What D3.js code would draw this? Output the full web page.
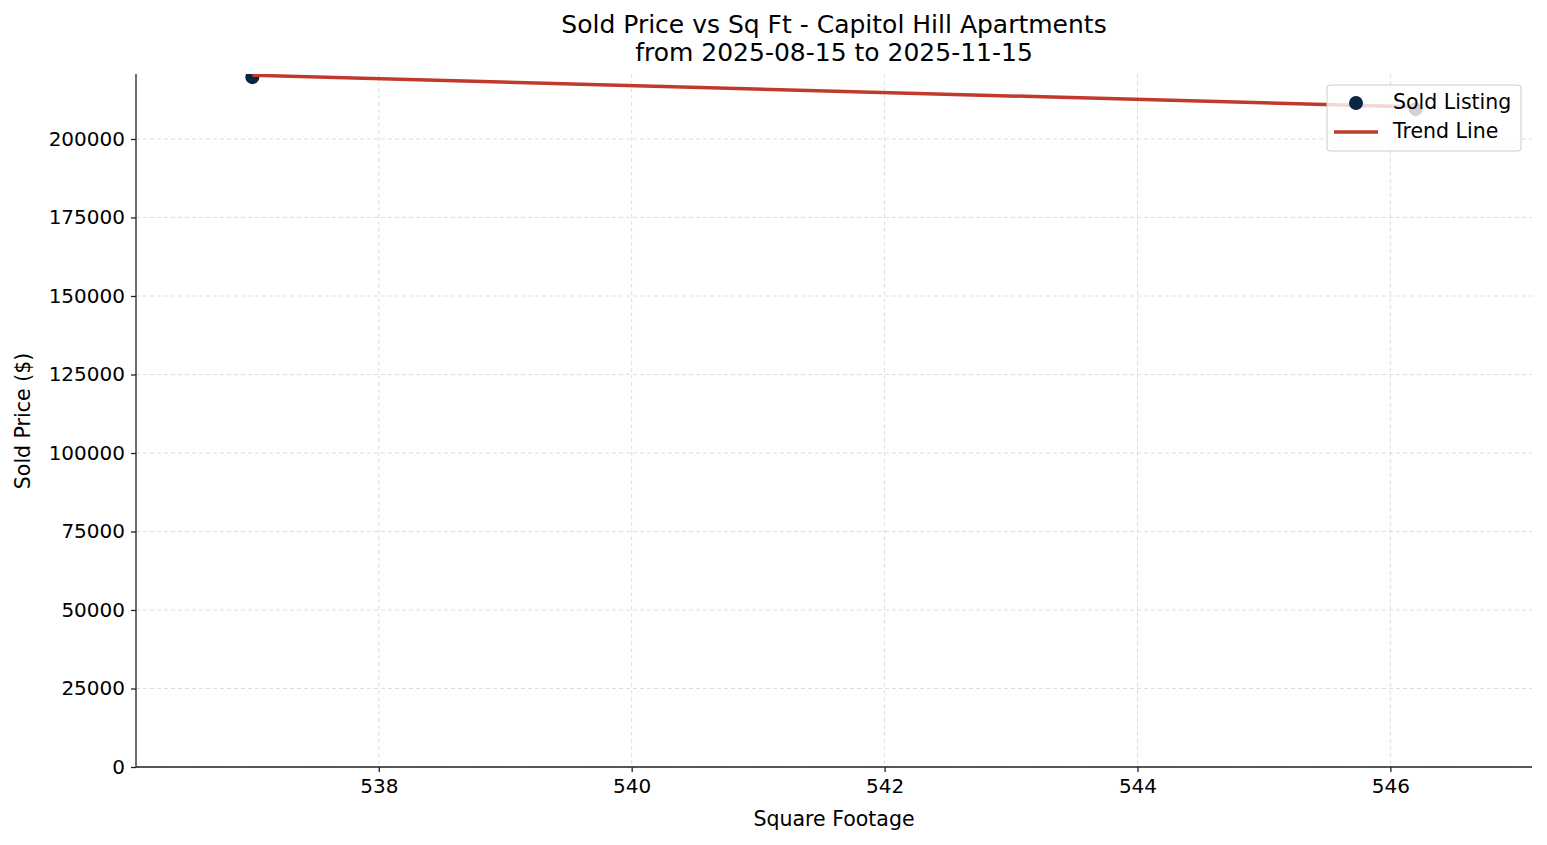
<!DOCTYPE html>
<html><head><meta charset="utf-8">
<script src="https://cdn.jsdelivr.net/npm/d3@7"></script>
<style>body{margin:0;background:#fff;font-family:"DejaVu Sans",sans-serif}</style>
</head><body><svg id="c" width="1547" height="845"></svg>
<script>
const sqft = [537.0, 546.2];
const price = [219700, 209500];
const trendX = [537.0, 546.2];
const trendY = [220300, 210200];
const xTicks = [538, 540, 542, 544, 546];
const yTicks = [0, 25000, 50000, 75000, 100000, 125000, 150000, 175000, 200000];

const svg = d3.select("#c");
const L = 136, R = 1532, T = 74, B = 767;
const x = d3.scaleLinear().domain([536.08, 547.12]).range([L, R]);
const y = d3.scaleLinear().domain([0, 220700]).range([B, T]);
const font = "DejaVu Sans, sans-serif";

svg.append("defs").append("clipPath").attr("id","clip").append("rect")
  .attr("x",L).attr("y",T).attr("width",R-L).attr("height",B-T);

const g = svg.append("g");
g.selectAll(".gx").data(xTicks).join("line").attr("x1",d=>x(d)).attr("x2",d=>x(d))
  .attr("y1",T).attr("y2",B).attr("stroke","#ccc").attr("stroke-width",0.8).attr("stroke-dasharray","4,3").attr("opacity",0.8);
g.selectAll(".gy").data(yTicks).join("line").attr("y1",d=>y(d)).attr("y2",d=>y(d))
  .attr("x1",L).attr("x2",R).attr("stroke","#ccc").attr("stroke-width",0.8).attr("stroke-dasharray","4,3").attr("opacity",0.8);

const pl = svg.append("g").attr("clip-path","url(#clip)");
pl.selectAll("circle").data(sqft).join("circle").attr("cx",d=>x(d)).attr("cy",(d,i)=>y(price[i]))
  .attr("r",7).attr("fill","#0b2545");
pl.append("path").datum(trendX.map((d,i)=>[d,trendY[i]]))
  .attr("d",d3.line().x(d=>x(d[0])).y(d=>y(d[1]))).attr("fill","none")
  .attr("stroke","#c0392b").attr("stroke-width",3.5);

const xa = svg.append("g").attr("transform",`translate(0,${B})`).call(d3.axisBottom(x).tickValues(xTicks).tickSize(5).tickPadding(7));
const ya = svg.append("g").attr("transform",`translate(${L},0)`).call(d3.axisLeft(y).tickValues(yTicks).tickSize(5).tickPadding(6).tickFormat(d3.format("d")));
[xa,ya].forEach(a=>{a.attr("font-size",20).selectAll("text").attr("font-family",font).attr("font-size",20).attr("fill","#000");
  a.selectAll("line,path").attr("stroke","#222").attr("stroke-width",1.3);});
xa.select(".domain").attr("d",`M${L},0H${R}`);
ya.select(".domain").attr("d",`M0,${B}V${T}`);

svg.append("text").attr("x",834).attr("y",826).attr("text-anchor","middle").attr("font-family",font).attr("font-size",20.5).text("Square Footage");
svg.append("text").attr("transform","translate(30,421) rotate(-90)").attr("text-anchor","middle").attr("font-family",font).attr("font-size",20.5).text("Sold Price ($)");
svg.append("text").attr("x",834).attr("y",33).attr("text-anchor","middle").attr("font-family",font).attr("font-size",25).text("Sold Price vs Sq Ft - Capitol Hill Apartments");
svg.append("text").attr("x",834).attr("y",61).attr("text-anchor","middle").attr("font-family",font).attr("font-size",25).text("from 2025-08-15 to 2025-11-15");

const lg = svg.append("g");
lg.append("rect").attr("x",1327).attr("y",85).attr("width",194).attr("height",66).attr("rx",3)
  .attr("fill","#fff").attr("fill-opacity",0.8).attr("stroke","#ccc");
lg.append("circle").attr("cx",1356).attr("cy",103).attr("r",7).attr("fill","#0b2545");
lg.append("line").attr("x1",1334).attr("x2",1378).attr("y1",132).attr("y2",132).attr("stroke","#c0392b").attr("stroke-width",3.5);
lg.append("text").attr("x",1393).attr("y",109).attr("font-family",font).attr("font-size",20.5).text("Sold Listing");
lg.append("text").attr("x",1393).attr("y",138).attr("font-family",font).attr("font-size",20.5).text("Trend Line");
</script></body></html>
